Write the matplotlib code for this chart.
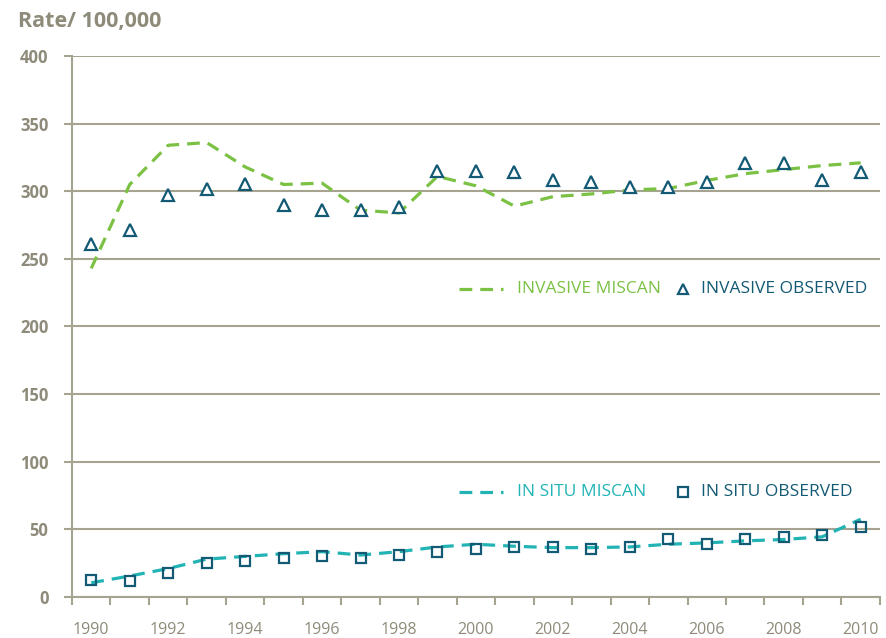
import numpy as np
import matplotlib
matplotlib.use('Agg')
import matplotlib.pyplot as plt

# Data
years = list(range(1990, 2011))
invasive_miscan = [243, 305, 334, 336, 318, 305, 306, 286, 284, 311, 304, 289,
                   296, 298, 301, 302, 308, 313, 316, 319, 321]
invasive_observed = [261, 271, 297, 302, 305, 290, 286, 286, 288, 315, 315, 314,
                     308, 307, 303, 303, 307, 321, 321, 308, 314]
insitu_miscan = [10.5, 15.5, 21, 28, 30, 32, 33.5, 31, 33.5, 37, 39, 37.5,
                 36.5, 36.5, 37, 39, 40, 41.5, 42.5, 44.5, 57.5]
insitu_observed = [12.5, 12, 18, 25, 26.5, 28.5, 30, 28.5, 31, 33.5, 35.5, 37,
                   37, 35.5, 37, 42.5, 39.5, 42.5, 44, 45.5, 51.5]
yticks = [0, 50, 100, 150, 200, 250, 300, 350, 400]

GREEN = '#7bc144'
TEAL = '#22b3b5'
DARK = '#135a74'
GREY = '#a7a391'
LABEL = '#8e8b7a'

plt.rcParams['font.family'] = ['Open Sans', 'DejaVu Sans']

fig = plt.figure(figsize=(8.87, 6.38), dpi=100)
ax = fig.add_axes([0.0812, 0.0643, 0.9108, 0.8479])

x = np.arange(len(years))
ax.plot(x, invasive_miscan, color=GREEN, lw=2.3, dashes=(4, 2.5), zorder=3)
ax.plot(x, invasive_observed, ls='none', marker='^', ms=8, mfc='white',
        mec=DARK, mew=1.6, zorder=4)
ax.plot(x, insitu_miscan, color=TEAL, lw=2.3, dashes=(4, 2.5), zorder=3)
ax.plot(x, insitu_observed, ls='none', marker='s', ms=7.5, mfc='none',
        mec=DARK, mew=1.6, zorder=4)

ax.set_xlim(-0.5, len(years) - 0.5)
ax.set_ylim(0, 400)

# category axis: tick marks on boundaries, labels every other year
ax.set_xticks(np.arange(-0.5, len(years)), labels=[])
ax.set_xticks(x[::2], labels=[str(y) for y in years[::2]], minor=True)
ax.tick_params(axis='x', which='major', length=6, width=1.5, color=GREY,
               direction='out')
ax.tick_params(axis='x', which='minor', length=0, pad=18, labelsize=11.5,
               labelcolor=LABEL)

ax.set_yticks(yticks)
ax.tick_params(axis='y', length=6, width=1.5, color=GREY, pad=11,
               labelsize=12, labelcolor=LABEL)
for t in ax.get_yticklabels():
    t.set_fontweight('bold')

ax.grid(axis='y', color=GREY, lw=1.5)
ax.set_axisbelow(True)
for s in ['top', 'right']:
    ax.spines[s].set_visible(False)
for s in ['left', 'bottom']:
    ax.spines[s].set_color(GREY)
    ax.spines[s].set_linewidth(1.5)


def legend_row(y, line_color, line_label, marker, obs_label):
    tr = ax.transAxes
    ax.plot([0.4785, 0.533], [y, y], color=line_color, lw=2.3,
            dashes=(4, 2.5), transform=tr, clip_on=False)
    ax.text(0.5505, y, line_label, color=line_color, fontsize=12.5,
            va='center', ha='left', transform=tr)
    ax.plot([0.756], [y], marker=marker, ms=7.5, mfc='white', mec=DARK,
            mew=1.6, transform=tr, clip_on=False)
    ax.text(0.779, y, obs_label, color=DARK, fontsize=12.5,
            va='center', ha='left', transform=tr)


legend_row(0.569, GREEN, 'INVASIVE MISCAN', '^', 'INVASIVE OBSERVED')
legend_row(0.194, TEAL, 'IN SITU MISCAN', 's', 'IN SITU OBSERVED')

fig.text(0.02, 0.966, 'Rate/ 100,000', fontsize=15.5, fontweight='bold',
         color=LABEL, va='center', ha='left')

fig.savefig('out.png', dpi=100)
